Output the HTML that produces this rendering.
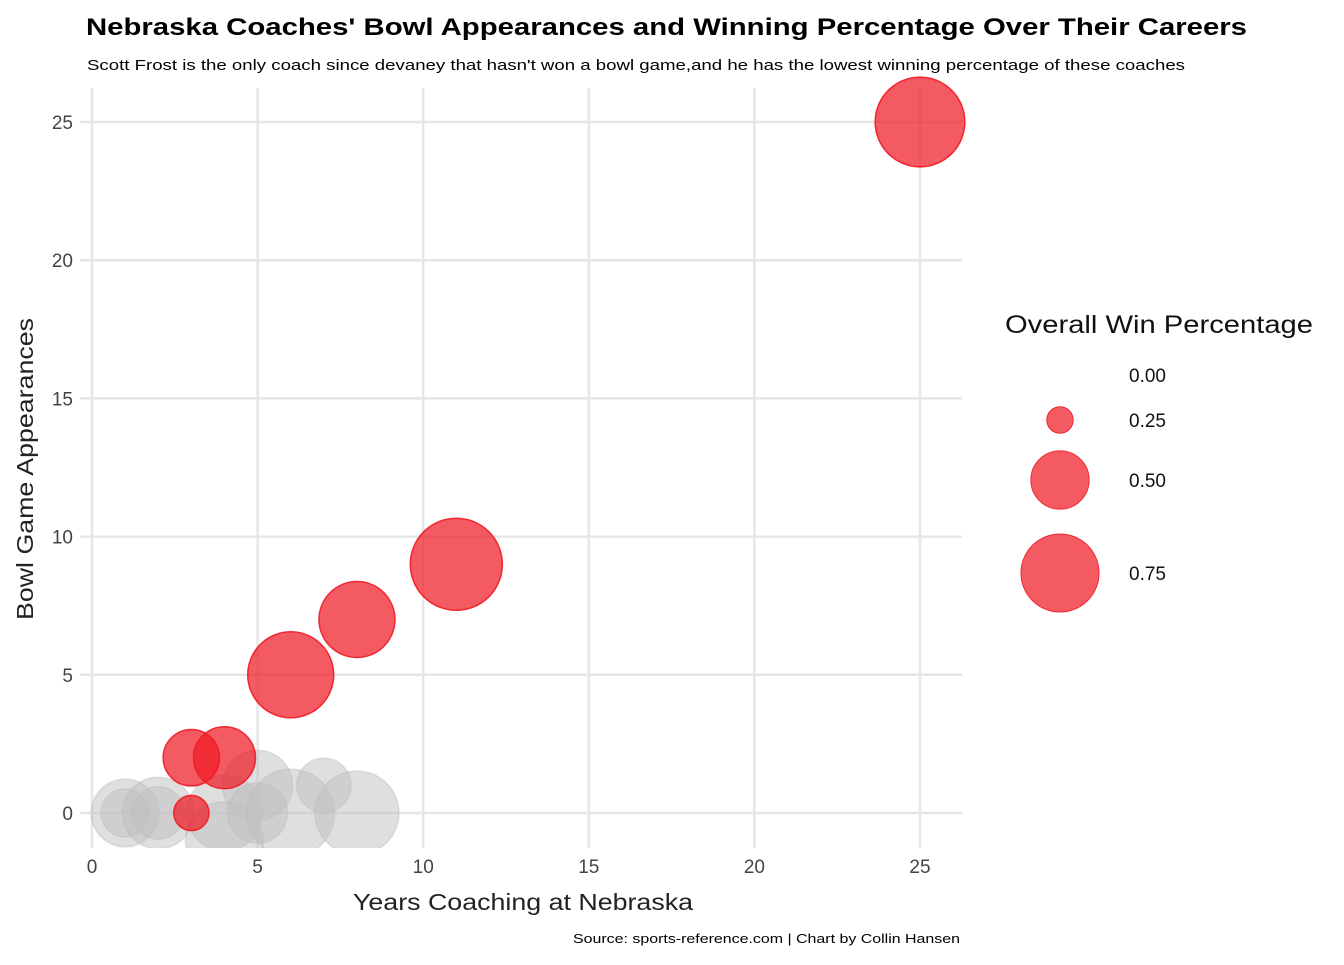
<!DOCTYPE html>
<html><head><meta charset="utf-8"><style>body{margin:0;background:#fff;font-family:"Liberation Sans",Arial,sans-serif}</style></head>
<body>
<svg id="chart" width="1344" height="960" xmlns="http://www.w3.org/2000/svg" font-family="Liberation Sans, Arial, sans-serif">
<defs><clipPath id="clip"><rect x="0" y="0" width="1000" height="848"/></clipPath></defs>
<text x="86" y="35" font-size="24" font-weight="bold" textLength="1161" lengthAdjust="spacingAndGlyphs">Nebraska Coaches' Bowl Appearances and Winning Percentage Over Their Careers</text>
<text x="87" y="70" font-size="15" textLength="1098" lengthAdjust="spacingAndGlyphs">Scott Frost is the only coach since devaney that hasn't won a bowl game,and he has the lowest winning percentage of these coaches</text>
<g id="grid"></g><g id="marks" clip-path="url(#clip)"></g><g id="axes"></g>
<text x="353" y="910" font-size="23" fill="#222" textLength="340" lengthAdjust="spacingAndGlyphs">Years Coaching at Nebraska</text>
<text transform="translate(33,620) rotate(-90)" font-size="23" fill="#222" textLength="302" lengthAdjust="spacingAndGlyphs">Bowl Game Appearances</text>
<text x="573" y="943" font-size="13" textLength="387" lengthAdjust="spacingAndGlyphs">Source: sports-reference.com | Chart by Collin Hansen</text>
<g id="legend">
<text x="1005" y="333" font-size="25" fill="#111" textLength="308" lengthAdjust="spacingAndGlyphs">Overall Win Percentage</text>
</g>
</svg>
<script>
const years=[1,1,2,2,4,4,5,5,6,7,8,25,11,8,6,3,4,3];
const bowls=[0,0,0,0,0,-1,1,0,0,1,0,25,9,7,5,2,2,0];
const winPct=[0.61,0.40,0.66,0.44,0.72,0.75,0.64,0.52,0.90,0.46,0.84,0.93,0.97,0.72,0.87,0.48,0.54,0.30];
const wonBowl=[0,0,0,0,0,0,0,0,0,0,0,1,1,1,1,1,1,1];
const xTicks=[0,5,10,15,20,25];
const yTicks=[0,5,10,15,20,25];
const legendVals=[0,0.25,0.5,0.75];
const NS='http://www.w3.org/2000/svg';
const X=v=>92+v*33.12, Y=v=>813-v*27.64;
const R=v=>Math.sqrt(Math.max(0,-500+2700*v));
function mk(t,a,p){const e=document.createElementNS(NS,t);for(const k in a)e.setAttribute(k,a[k]);p.appendChild(e);return e;}
const g=document.getElementById('grid'),ax=document.getElementById('axes'),m=document.getElementById('marks'),lg=document.getElementById('legend');
xTicks.forEach(t=>{const l=mk('line',{x1:X(t),x2:X(t),y1:88,y2:848,stroke:'#e6e6e6','stroke-width':2.5},g);

const tx=mk('text',{x:X(t),y:873,'font-size':19,'text-anchor':'middle',fill:'#444'},ax);tx.textContent=t;
});
yTicks.forEach(t=>{const l=mk('line',{x1:80,x2:962,y1:Y(t),y2:Y(t),stroke:'#e6e6e6','stroke-width':2.5},g);

const tx=mk('text',{x:73,y:Y(t)+7,'font-size':19,'text-anchor':'end',fill:'#444'},ax);tx.textContent=t;
});
years.forEach((yr,i)=>{const red=wonBowl[i];
const c=mk('circle',{cx:X(yr),cy:Y(bowls[i]),r:R(winPct[i]),fill:red?'#f01a24':'#c0c0c0','fill-opacity':red?0.72:0.5,stroke:red?'#f01a24':'#b8b8b8','stroke-opacity':red?0.9:0.4,'stroke-width':1.5},m);
});
const ly=[375,420,480,573];
legendVals.forEach((v,i)=>{const c=mk('circle',{cx:1060,cy:ly[i],r:R(v),fill:'#f01a24','fill-opacity':0.72,stroke:'#f01a24','stroke-opacity':0.9},lg);

const t=mk('text',{x:1129,y:ly[i]+7,'font-size':19,fill:'#111'},lg);t.textContent=v.toFixed(2);
});
</script>
</body></html>
